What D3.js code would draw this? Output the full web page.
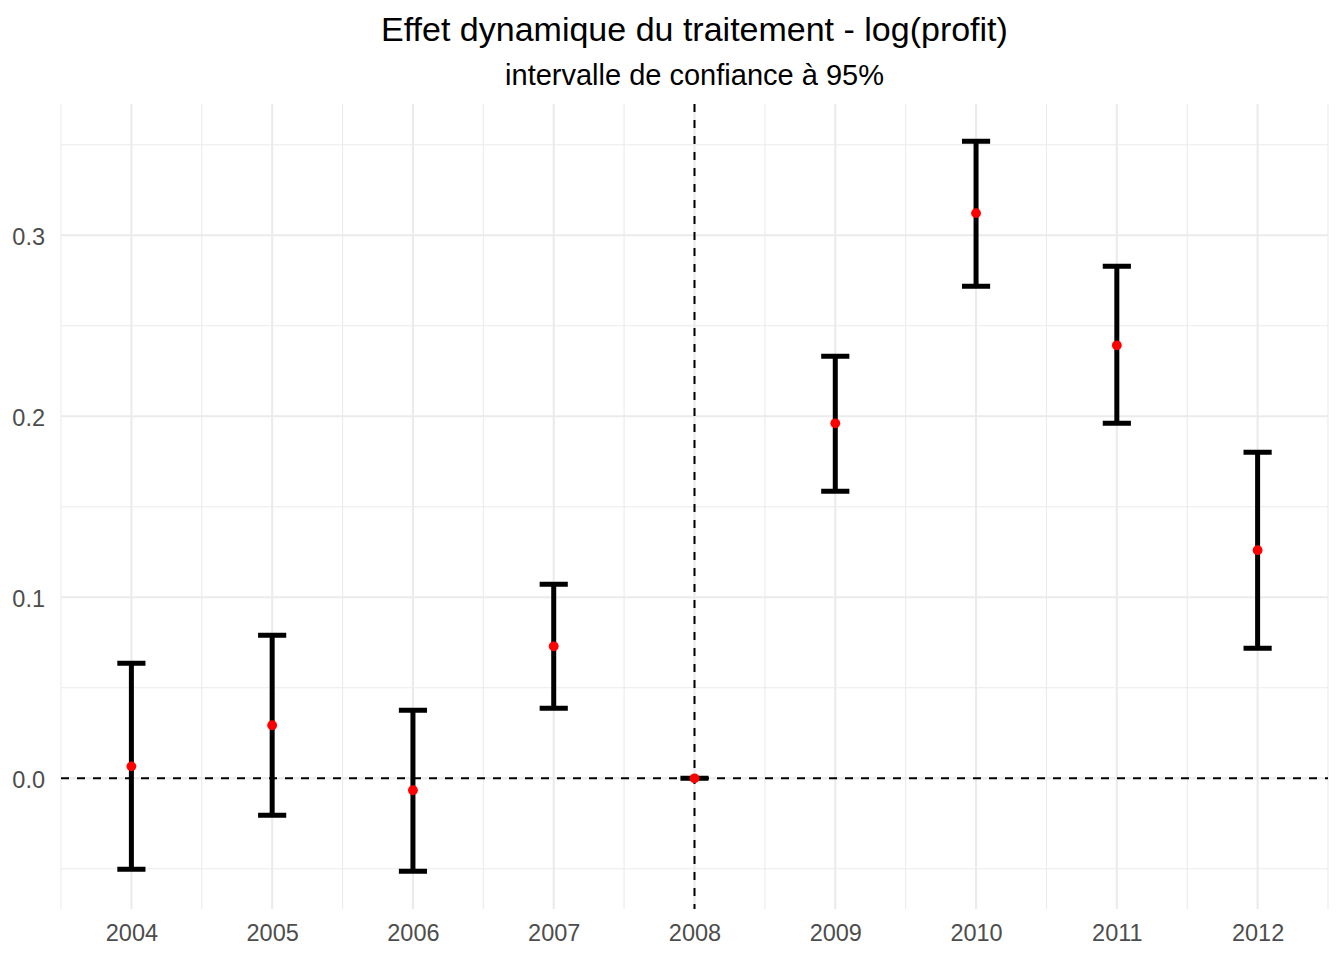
<!DOCTYPE html>
<html>
<head>
<meta charset="utf-8">
<script src="https://cdn.jsdelivr.net/npm/d3@7"></script>
<style>
  html, body { margin: 0; padding: 0; background: #fff; }
  svg { display: block; font-family: "Liberation Sans", Arial, sans-serif; }
</style>
</head>
<body>
<svg id="chart" width="1344" height="960"></svg>
<script>
const years = [2004, 2005, 2006, 2007, 2008, 2009, 2010, 2011, 2012];
const estimates = [0.0066, 0.0293, -0.0066, 0.0729, 0.0, 0.1961, 0.3122, 0.2392, 0.1260];
const lowerCI = [-0.0503, -0.0204, -0.0514, 0.0387, 0.0, 0.1586, 0.2718, 0.1961, 0.0718];
const upperCI = [0.0635, 0.0790, 0.0376, 0.1072, 0.0, 0.2331, 0.3519, 0.2829, 0.1801];
const yTicks = [0.0, 0.1, 0.2, 0.3];
const yMinor = [-0.05, 0.05, 0.15, 0.25, 0.35];
const xMinor = [2003.5, 2004.5, 2005.5, 2006.5, 2007.5, 2008.5, 2009.5, 2010.5, 2011.5, 2012.5];
const titleText = "Effet dynamique du traitement - log(profit)";
const subtitleText = "intervalle de confiance à 95%";
const refYear = 2008;

const data = years.map((yr, i) => ({ year: yr, est: estimates[i], lo: lowerCI[i], hi: upperCI[i] }));

const svg = d3.select("#chart");
const pL = 61, pR = 1328, pT = 104, pB = 909;

const x = d3.scaleLinear().domain([2003.5, 2012.5]).range([pL, pR]);
const y = d3.scaleLinear().domain([-0.0722, 0.3725]).range([pB, pT]);

const grid = svg.append("g");
grid.selectAll("line.ymin").data(yMinor).join("line")
  .attr("x1", pL).attr("x2", pR)
  .attr("y1", d => y(d)).attr("y2", d => y(d))
  .attr("stroke", "#ebebeb").attr("stroke-width", 1.1);
grid.selectAll("line.xmin").data(xMinor).join("line")
  .attr("y1", pT).attr("y2", pB)
  .attr("x1", d => x(d)).attr("x2", d => x(d))
  .attr("stroke", "#ebebeb").attr("stroke-width", 1.1);
grid.selectAll("line.ymaj").data(yTicks).join("line")
  .attr("x1", pL).attr("x2", pR)
  .attr("y1", d => y(d)).attr("y2", d => y(d))
  .attr("stroke", "#ebebeb").attr("stroke-width", 2.1);
grid.selectAll("line.xmaj").data(years).join("line")
  .attr("y1", pT).attr("y2", pB)
  .attr("x1", d => x(d)).attr("x2", d => x(d))
  .attr("stroke", "#ebebeb").attr("stroke-width", 2.1);

// Axes (labels only)
const yAxis = svg.append("g").attr("transform", `translate(${pL},0)`)
  .call(d3.axisLeft(y).tickValues(yTicks).tickFormat(d3.format(".1f")).tickSize(0).tickPadding(16));
yAxis.select(".domain").remove();
yAxis.selectAll("text").attr("fill", "#4d4d4d").attr("dy", "0.4em").style("font-size", "23.5px")
  .style("font-family", "'Liberation Sans', Arial, sans-serif");

const xAxis = svg.append("g").attr("transform", `translate(0,${pB})`)
  .call(d3.axisBottom(x).tickValues(years).tickFormat(d3.format("d")).tickSize(0).tickPadding(15));
xAxis.select(".domain").remove();
xAxis.selectAll("text").attr("fill", "#4d4d4d").style("font-size", "23.5px")
  .style("font-family", "'Liberation Sans', Arial, sans-serif");

// Reference lines
svg.append("line")
  .attr("x1", pL).attr("x2", pR).attr("y1", y(0)).attr("y2", y(0))
  .attr("stroke", "#000").attr("stroke-width", 2).attr("stroke-dasharray", "8,8");
svg.append("line")
  .attr("x1", x(refYear)).attr("x2", x(refYear)).attr("y1", pT).attr("y2", pB)
  .attr("stroke", "#000").attr("stroke-width", 2).attr("stroke-dasharray", "8,8");

// Error bars
const capHalf = 0.1;
const eb = svg.append("g").attr("stroke", "#000").attr("stroke-width", 5).attr("fill", "none");
eb.selectAll("path").data(data).join("path")
  .attr("d", d => {
    const xl = x(d.year - capHalf), xr = x(d.year + capHalf), xc = x(d.year);
    return `M${xl},${y(d.hi)}H${xr}M${xc},${y(d.hi)}V${y(d.lo)}M${xl},${y(d.lo)}H${xr}`;
  });

// Points
svg.append("g").selectAll("circle").data(data).join("circle")
  .attr("cx", d => x(d.year)).attr("cy", d => y(d.est)).attr("r", 4.9)
  .attr("fill", "#ff0000");

// Titles
const cx = (pL + pR) / 2;
svg.append("text").attr("x", cx).attr("y", 41).attr("text-anchor", "middle")
  .style("font-size", "34px").attr("fill", "#000").text(titleText);
svg.append("text").attr("x", cx).attr("y", 85).attr("text-anchor", "middle")
  .style("font-size", "29px").attr("fill", "#000").text(subtitleText);
</script>
</body>
</html>
